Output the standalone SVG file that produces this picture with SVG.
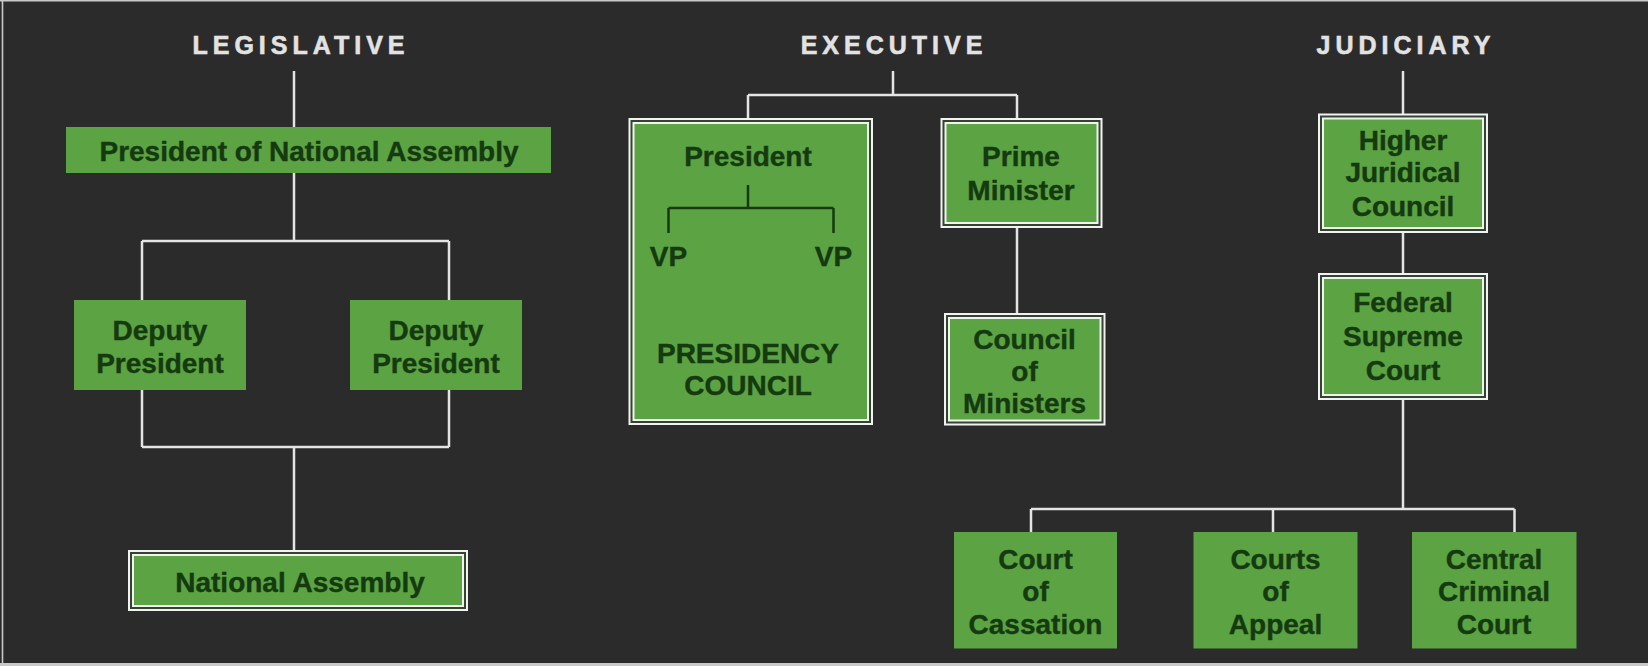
<svg xmlns="http://www.w3.org/2000/svg" width="1648" height="666" viewBox="0 0 1648 666">
<style>
.bg{fill:#2b2b2b}
.frame{stroke:#c9c9c9;fill:none}
.title{font-family:"Liberation Sans",Arial,sans-serif;font-weight:bold;font-size:25px;fill:#e2e2e2;letter-spacing:5px;text-anchor:middle;stroke:#e2e2e2;stroke-width:0.6}
.box{fill:#5ba343}
.outer{fill:#34452f;stroke:#f2f2f2;stroke-width:2}
.inner{fill:#5ba343;stroke:#f2f2f2;stroke-width:2}
.lbl{font-family:"Liberation Sans",Arial,sans-serif;font-weight:bold;font-size:28px;fill:#153a10;text-anchor:middle;stroke:#153a10;stroke-width:0.4}
.conn{stroke:#e4e4e4;stroke-width:2.5;fill:none}
.inconn{stroke:#153a10;stroke-width:2.5;fill:none}
</style>
<rect class="bg" x="0" y="0" width="1648" height="666"/>
<path class="frame" d="M0 0.8H1648M2.5 0V666" stroke-width="1.6"/>
<path class="frame" d="M0 664.5H1648" stroke-width="3"/>

<g id="titles">
<text class="title" x="301" y="54">LEGISLATIVE</text>
<text class="title" x="894" y="54">EXECUTIVE</text>
<text class="title" x="1406" y="54">JUDICIARY</text>
</g>

<g id="connectors">
<path class="conn" d="M294 71V127M294 173V241M142 241H449M142 241V300M449 241V300M142 390V447M449 390V447M142 447H449M294 447V550"/>
<path class="conn" d="M893 71V95M748 95H1017M748 95V118M1017 95V118M1017 228V313"/>
<path class="conn" d="M1403 71V114M1403 233V273M1403 400V509M1031 509H1514.5M1031 509V532M1273 509V532M1514.5 509V532"/>
</g>

<g id="president-national-assembly">
<rect class="box" x="66" y="127" width="485" height="46"/>
<text class="lbl" x="309" y="161">President of National Assembly</text>
</g>
<g id="deputy-president-1">
<rect class="box" x="74" y="300" width="172" height="90"/>
<text class="lbl" x="160" y="339.5">Deputy</text>
<text class="lbl" x="160" y="373">President</text>
</g>
<g id="deputy-president-2">
<rect class="box" x="350" y="300" width="172" height="90"/>
<text class="lbl" x="436" y="339.5">Deputy</text>
<text class="lbl" x="436" y="373">President</text>
</g>
<g id="national-assembly">
<rect class="outer" x="129" y="551" width="338" height="59"/>
<rect class="inner" x="133" y="555" width="330" height="51"/>
<text class="lbl" x="300" y="592">National Assembly</text>
</g>

<g id="presidency-council">
<rect class="outer" x="629.5" y="119" width="242.5" height="305"/>
<rect class="inner" x="633.5" y="123" width="234.5" height="297"/>
<path class="inconn" d="M748 185V208M668.5 208H833.5M668.5 208V233M833.5 208V233"/>
<text class="lbl" x="748" y="166">President</text>
<text class="lbl" x="668.5" y="266">VP</text>
<text class="lbl" x="833.5" y="266">VP</text>
<text class="lbl" x="748" y="362.5">PRESIDENCY</text>
<text class="lbl" x="748" y="395">COUNCIL</text>
</g>
<g id="prime-minister">
<rect class="outer" x="941.5" y="119" width="160" height="108"/>
<rect class="inner" x="945.5" y="123" width="152" height="100"/>
<text class="lbl" x="1021" y="166">Prime</text>
<text class="lbl" x="1021" y="200">Minister</text>
</g>
<g id="council-of-ministers">
<rect class="outer" x="945" y="314" width="159.5" height="110.5"/>
<rect class="inner" x="949" y="318" width="151.5" height="102.5"/>
<text class="lbl" x="1024.5" y="349">Council</text>
<text class="lbl" x="1024.5" y="380.5">of</text>
<text class="lbl" x="1024.5" y="413">Ministers</text>
</g>

<g id="higher-juridical-council">
<rect class="outer" x="1319" y="114.5" width="168" height="117.5"/>
<rect class="inner" x="1323" y="118.5" width="160" height="109.5"/>
<text class="lbl" x="1403" y="150">Higher</text>
<text class="lbl" x="1403" y="182">Juridical</text>
<text class="lbl" x="1403" y="215.5">Council</text>
</g>
<g id="federal-supreme-court">
<rect class="outer" x="1319" y="274" width="168" height="125"/>
<rect class="inner" x="1323" y="278" width="160" height="117"/>
<text class="lbl" x="1403" y="312">Federal</text>
<text class="lbl" x="1403" y="346">Supreme</text>
<text class="lbl" x="1403" y="379.5">Court</text>
</g>
<g id="court-of-cassation">
<rect class="box" x="954" y="532" width="163" height="116.5"/>
<text class="lbl" x="1035.5" y="568.5">Court</text>
<text class="lbl" x="1035.5" y="601">of</text>
<text class="lbl" x="1035.5" y="634">Cassation</text>
</g>
<g id="courts-of-appeal">
<rect class="box" x="1193.5" y="532" width="164" height="116.5"/>
<text class="lbl" x="1275.5" y="568.5">Courts</text>
<text class="lbl" x="1275.5" y="601">of</text>
<text class="lbl" x="1275.5" y="634">Appeal</text>
</g>
<g id="central-criminal-court">
<rect class="box" x="1412" y="532" width="164.5" height="116.5"/>
<text class="lbl" x="1494" y="568.5">Central</text>
<text class="lbl" x="1494" y="601">Criminal</text>
<text class="lbl" x="1494" y="634">Court</text>
</g>
</svg>
